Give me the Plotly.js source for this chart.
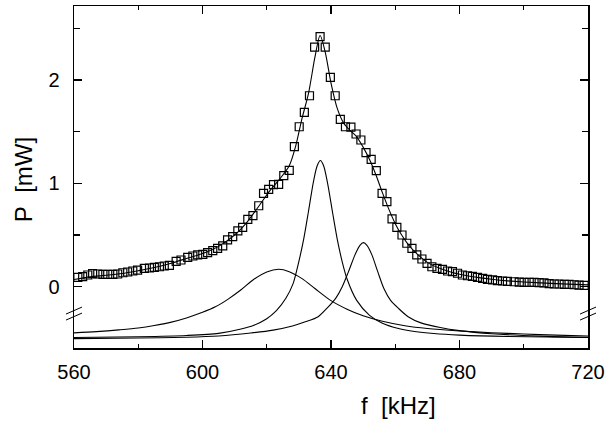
<!DOCTYPE html>
<html>
<head>
<meta charset="utf-8">
<script src="https://cdn.plot.ly/plotly-3.0.1.min.js"></script>
<style>
  html, body { margin: 0; padding: 0; background: #fff; }
  #chart { width: 609px; height: 424px; }
</style>
</head>
<body>
<div id="chart"></div>
<script>
// measured spectrum (open squares)
const freqData = [561.2, 562.7, 564.3, 565.8, 567.4, 569.0, 570.5, 572.1, 573.6, 575.2, 576.7, 578.3, 579.8, 581.9, 583.5, 585.0, 586.6, 588.1, 589.7, 591.8, 593.3, 595.4, 597.0, 598.5, 600.1, 601.6, 603.2, 604.7, 606.3, 607.8, 609.4, 611.0, 612.5, 614.1, 615.7, 617.5, 619.0, 620.6, 622.1, 623.7, 625.3, 627.0, 628.6, 630.1, 631.7, 633.3, 634.9, 636.6, 638.2, 639.8, 641.3, 642.9, 644.5, 646.2, 647.8, 649.3, 650.9, 652.5, 654.1, 655.9, 657.4, 659.0, 660.5, 662.1, 663.6, 665.2, 666.7, 668.3, 669.9, 671.4, 673.0, 674.7, 676.3, 677.8, 679.4, 680.9, 682.5, 684.0, 685.6, 687.2, 688.7, 690.3, 691.8, 693.4, 694.9, 697.0, 698.6, 700.1, 701.7, 703.2, 704.8, 706.3, 707.9, 709.5, 711.0, 712.6, 714.1, 715.7, 717.2, 718.8];
const powerData = [0.091, 0.097, 0.113, 0.126, 0.123, 0.12, 0.12, 0.12, 0.123, 0.135, 0.142, 0.152, 0.161, 0.178, 0.181, 0.187, 0.193, 0.2, 0.207, 0.245, 0.258, 0.284, 0.297, 0.307, 0.313, 0.329, 0.348, 0.371, 0.394, 0.452, 0.484, 0.539, 0.574, 0.652, 0.687, 0.783, 0.903, 0.942, 0.987, 0.99, 1.074, 1.126, 1.354, 1.547, 1.686, 1.847, 2.318, 2.418, 2.318, 2.025, 1.847, 1.619, 1.547, 1.544, 1.477, 1.419, 1.296, 1.232, 1.122, 0.903, 0.822, 0.655, 0.574, 0.5, 0.42, 0.37, 0.307, 0.268, 0.226, 0.193, 0.178, 0.168, 0.152, 0.145, 0.13, 0.113, 0.106, 0.1, 0.091, 0.081, 0.071, 0.065, 0.058, 0.055, 0.052, 0.048, 0.045, 0.042, 0.042, 0.042, 0.039, 0.036, 0.029, 0.026, 0.026, 0.023, 0.023, 0.019, 0.016, 0.013];

// total fit curve
const freqFit = [560, 565, 570, 575, 580, 585, 590, 595, 600, 605, 610, 614, 618, 621, 624, 627, 629, 631, 633, 635, 636.6, 638.2, 640, 642, 644, 646, 648, 650, 652, 654, 656, 658, 660, 662, 664, 667, 670, 674, 678, 682, 686, 690, 695, 700, 710, 720];
const powerFit = [0.07, 0.095, 0.11, 0.128, 0.155, 0.185, 0.225, 0.272, 0.32, 0.39, 0.5, 0.63, 0.8, 0.93, 1.04, 1.17, 1.36, 1.63, 1.87, 2.22, 2.43, 2.27, 1.97, 1.72, 1.58, 1.51, 1.45, 1.35, 1.23, 1.08, 0.91, 0.75, 0.61, 0.5, 0.41, 0.31, 0.235, 0.175, 0.135, 0.108, 0.088, 0.072, 0.056, 0.045, 0.03, 0.018];

// single components, shifted below the axis break
const freqBroad = [560, 567, 574, 580, 585, 590, 595, 600, 604, 608, 612, 616, 620, 623.7, 627, 631, 635, 640, 645, 650, 656, 663, 670, 680, 690, 700, 710, 720];
const powerBroad = [-0.447, -0.435, -0.418, -0.4, -0.376, -0.345, -0.302, -0.248, -0.195, -0.12, -0.03, 0.072, 0.143, 0.168, 0.145, 0.078, -0.018, -0.135, -0.218, -0.282, -0.335, -0.378, -0.405, -0.428, -0.445, -0.458, -0.468, -0.477];

const freqCentral = [560, 580, 595, 605, 612, 616, 620, 623, 626, 628.2, 630, 631.5, 633, 634.5, 635.7, 636.7, 637.7, 639, 640.5, 642, 643.5, 645, 648, 652, 656, 661, 666, 672, 680, 695, 720];
const powerCentral = [-0.492, -0.484, -0.472, -0.452, -0.41, -0.373, -0.31, -0.232, -0.11, 0.03, 0.245, 0.46, 0.73, 1.01, 1.17, 1.22, 1.17, 0.99, 0.715, 0.45, 0.24, 0.075, -0.132, -0.277, -0.353, -0.404, -0.433, -0.453, -0.468, -0.482, -0.491];

const freqRight = [560, 580, 595, 605, 615, 622, 628, 632, 636, 639, 641.5, 643.5, 645.5, 647.5, 649, 650.1, 651.2, 652.7, 654.5, 656.5, 658.5, 661, 664, 668, 674, 680, 690, 705, 720];
const powerRight = [-0.502, -0.497, -0.489, -0.477, -0.448, -0.42, -0.38, -0.34, -0.29, -0.2, -0.11, 0.0, 0.15, 0.31, 0.4, 0.426, 0.4, 0.31, 0.15, -0.02, -0.13, -0.21, -0.29, -0.35, -0.395, -0.425, -0.455, -0.478, -0.49];

const xTicks = [560, 600, 640, 680, 720];
const yTicks = [0, 1, 2];
const yMinorTicks = [0.5, 1.5, 2.5];

const font = 'Liberation Sans, Arial, Helvetica, sans-serif';
const thin = { color: '#000', width: 1.1, shape: 'spline', smoothing: 0.8 };

const traces = [
    { x: freqBroad, y: powerBroad, mode: 'lines', line: thin },
    { x: freqCentral, y: powerCentral, mode: 'lines', line: thin },
    { x: freqRight, y: powerRight, mode: 'lines', line: thin },
    { x: freqFit, y: powerFit, mode: 'lines', line: thin },
    { x: freqData, y: powerData, mode: 'markers',
      marker: { symbol: 'square-open', size: 8, color: '#000', line: { width: 1.2, color: '#000' } } }
];

// axis break marks "//" on both vertical axes
function breakMark(xa, dy) {
    return {
        type: 'line', xref: 'paper', yref: 'y',
        xsizemode: 'pixel', ysizemode: 'pixel',
        xanchor: xa, yanchor: -0.26,
        x0: -8, x1: 8, y0: dy - 3.5, y1: dy + 3.5,
        line: { color: '#000', width: 1 }
    };
}

const layout = {
    width: 609, height: 424,
    margin: { l: 74, r: 21, t: 6, b: 76 },
    paper_bgcolor: '#fff', plot_bgcolor: '#fff',
    showlegend: false,
    font: { family: font, size: 20, color: '#000' },
    xaxis: {
        range: [560, 720], tickvals: xTicks,
        showline: true, linecolor: '#000', linewidth: 1.5, mirror: 'ticks',
        ticks: 'inside', ticklen: 8, tickwidth: 1.2, tickcolor: '#000',
        minor: { ticks: 'inside', dtick: 20, tick0: 560, ticklen: 4, tickwidth: 1.2, tickcolor: '#000' },
        showgrid: false, zeroline: false, ticklabelstandoff: 5,
        tickfont: { family: font, size: 20, color: '#000' }
    },
    yaxis: {
        range: [-0.593, 2.715], tickvals: yTicks,
        showline: true, linecolor: '#000', linewidth: 1.5, mirror: 'ticks',
        ticks: 'inside', ticklen: 8, tickwidth: 1.2, tickcolor: '#000',
        minor: { ticks: 'inside', tickvals: yMinorTicks, ticklen: 6, tickwidth: 1.2, tickcolor: '#000' },
        showgrid: false, zeroline: false, ticklabelstandoff: 9,
        tickfont: { family: font, size: 20, color: '#000' }
    },
    shapes: [breakMark(0, 3), breakMark(0, -3), breakMark(1, 3), breakMark(1, -3)],
    annotations: [
        { text: 'f\u00a0\u00a0[kHz]', xref: 'paper', yref: 'paper', x: 0.632, y: -0.167,
          xanchor: 'center', yanchor: 'middle', showarrow: false, font: { family: font, size: 24, color: '#000' } },
        { text: 'P\u00a0\u00a0[mW]', xref: 'paper', yref: 'paper', x: -0.099, y: 0.491, textangle: -90,
          xanchor: 'center', yanchor: 'middle', showarrow: false, font: { family: font, size: 24, color: '#000' } }
    ]
};

Plotly.newPlot('chart', traces, layout, { staticPlot: true, displayModeBar: false });
</script>
</body>
</html>
